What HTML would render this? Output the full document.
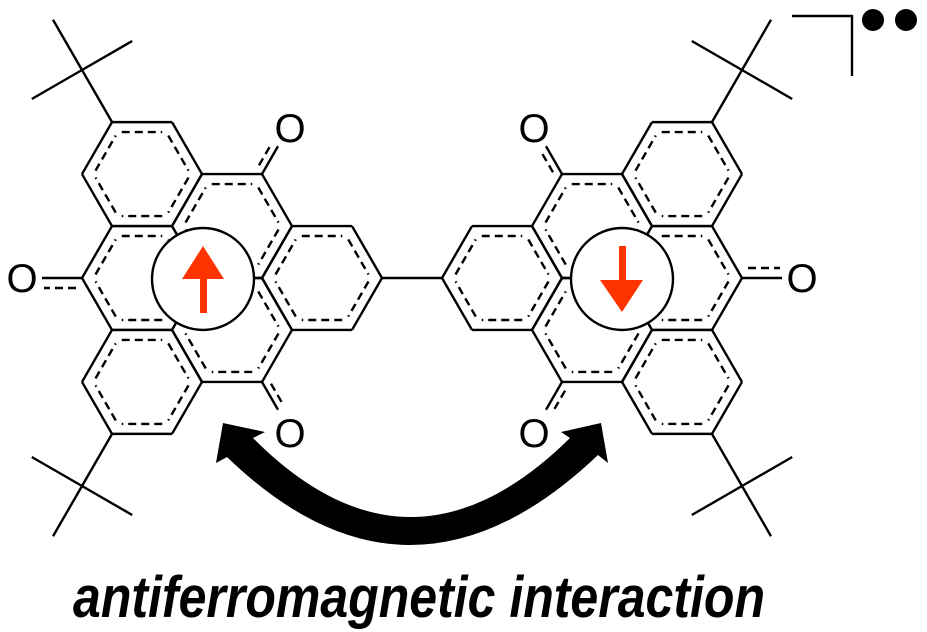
<!DOCTYPE html>
<html><head><meta charset="utf-8">
<style>html,body{margin:0;padding:0;background:#fff;}svg{display:block;}</style>
</head><body>
<svg id="s" xmlns="http://www.w3.org/2000/svg" width="927" height="632" viewBox="0 0 927 632">
<g id="g" stroke="#000" stroke-width="2.4" fill="none" stroke-linecap="butt"></g>
<g id="t"></g>
<line x1="792" y1="16" x2="853" y2="16" stroke="#000" stroke-width="2.4"/>
<line x1="852" y1="15" x2="852" y2="76" stroke="#000" stroke-width="2.4"/>
<circle cx="873" cy="20" r="11" fill="#000"/>
<circle cx="906" cy="20" r="11" fill="#000"/>
<path d="M253,438 Q410,596 570,438 L561,432 L601,423 L608,463 L598,455 Q410,634 227,457 L216,463 L223,423 L265,432 Z" fill="#000"/>
<text x="73" y="617" font-family="Liberation Sans, Arial, sans-serif" font-size="58" font-weight="bold" font-style="italic" textLength="692" lengthAdjust="spacingAndGlyphs" fill="#000">antiferromagnetic interaction</text>
</svg>
<script>
(function(){
var NS="http://www.w3.org/2000/svg";
var g=document.getElementById('g'), t=document.getElementById('t');
function el(n,a,p){var e=document.createElementNS(NS,n);for(var k in a)e.setAttribute(k,a[k]);(p||g).appendChild(e);return e;}
function line(x1,y1,x2,y2,dash){var a={x1:x1,y1:y1,x2:x2,y2:y2};if(dash)a['stroke-dasharray']='8 5';el('line',a);}
var L=60, R=48.5;
function ring(cx,cy){
  for(var i=0;i<6;i++){
    var a1=i*Math.PI/3,a2=(i+1)*Math.PI/3;
    line(cx+L*Math.cos(a1),cy+L*Math.sin(a1),cx+L*Math.cos(a2),cy+L*Math.sin(a2));
    var x1=cx+R*Math.cos(a1),y1=cy+R*Math.sin(a1),x2=cx+R*Math.cos(a2),y2=cy+R*Math.sin(a2);
    var dx=(x2-x1)/R*4,dy=(y2-y1)/R*4;
    line(x1+dx,y1+dy,x2-dx,y2-dy,true);
  }
}
function mol(m){
  function X(x){return m?824-x:x;}
  var cx=202,cy=278;
  var rings=[[-120,2],[120,2],[0,2],[-60,1],[180,1],[60,1]];
  rings.forEach(function(r){var a=r[0]*Math.PI/180;ring(X(cx+r[1]*L*Math.cos(a)),cy+r[1]*L*Math.sin(a));});
  [[112,122,82,70,[-120,-30,150]],[112,434,82,486,[120,30,-150]]].forEach(function(b){
    line(X(b[0]),b[1],X(b[2]),b[3]);
    b[4].forEach(function(d){var a=d*Math.PI/180;line(X(b[2]),b[3],X(b[2]+58*Math.cos(a)),b[3]+58*Math.sin(a));});
  });
}
mol(false);mol(true);
line(382,278,442,278);
function co(cx,cy,deg,ox,oy,len){
  var a=deg*Math.PI/180,ux=Math.cos(a),uy=Math.sin(a);
  line(cx,cy,cx+len*ux,cy+len*uy);
  line(cx+ox+6*ux,cy+oy+6*uy,cx+ox+(len-2)*ux,cy+oy+(len-2)*uy,true);
}
co(262,174,-60,-6,-3.5,32);
co(262,382,60,6,-3.5,32);
co(82,278,180,0,10,40);
co(562,174,-120,-6,3.5,32);
co(562,382,120,6,3.5,32);
co(742,278,0,0,-10,40);
[[22,278],[290,128],[290,433],[802,278],[534,128],[534,433]].forEach(function(p){
  var e=el('text',{x:p[0],y:p[1]+14,'text-anchor':'middle','font-family':'Liberation Sans, Arial, sans-serif','font-size':'40',fill:'#000'},t);
  e.textContent='O';
});
[203,622].forEach(function(x,i){
  el('circle',{cx:x,cy:279,r:51,fill:'#fff',stroke:'#000','stroke-width':2.4},t);
});
el('rect',{x:200,y:276,width:7,height:37,fill:'#ff3300'},t);
el('polygon',{points:'182,279 224,279 203,246',fill:'#ff3300'},t);
el('rect',{x:619,y:246,width:7,height:36,fill:'#ff3300'},t);
el('polygon',{points:'600,280 643,280 622,312',fill:'#ff3300'},t);
})();
</script>
</body></html>
